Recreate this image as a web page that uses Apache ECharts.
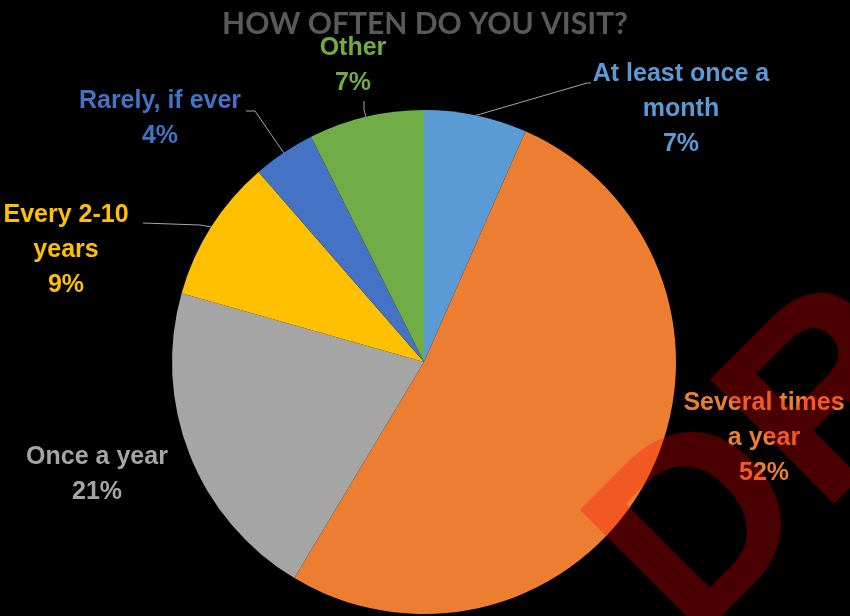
<!DOCTYPE html>
<html>
<head>
<meta charset="utf-8">
<script src="https://cdn.jsdelivr.net/npm/echarts@6/dist/echarts.min.js"></script>
<style>html,body{margin:0;padding:0;background:#000;}#c{width:850px;height:616px;}</style>
</head>
<body>
<div id="c"></div>
<script>
const titleText = 'HOW OFTEN DO YOU VISIT?';
const categories = ['At least once a\nmonth', 'Several times\na year', 'Once a year', 'Every 2-10\nyears', 'Rarely, if ever', 'Other'];
const values = [6.6, 52.0, 20.8, 9.2, 4.0, 7.4];
const colors = ['#5B9BD5', '#ED7D31', '#A5A5A5', '#FFC000', '#4472C4', '#70AD47'];

// label placement (center of label block) and leader-line bends
const labelPos = [
  {x: 681, y: 109, line: [[587, 83], [591, 83]]},
  {x: 764, y: 438, line: null},
  {x: 97, y: 475, line: null},
  {x: 66, y: 250, line: [[200, 225], [143, 223]]},
  {x: 160, y: 119, line: [[255, 111], [246, 111]]},
  {x: 353, y: 66, line: [[364, 110], [364, 101]]}
];

const chart = echarts.init(document.getElementById('c'));
chart.setOption({
  backgroundColor: '#000',
  title: {
    text: titleText, left: 'center', top: 4,
    textStyle: {color: '#595959', fontFamily: 'Lato', fontWeight: 'bold', fontSize: 30}
  },
  graphic: [{
    type: 'text', z: 100, silent: true,
    x: 552, y: 506, rotation: Math.PI / 4,
    style: {
      text: 'DRAFT', fill: 'rgba(255,0,0,0.29)',
      font: 'bold 255px "Liberation Sans"', textAlign: 'left', textVerticalAlign: 'top'
    }
  }],
  series: [{
    type: 'pie',
    center: [424, 362], radius: 252,
    startAngle: 90, clockwise: true,
    animation: false,
    data: categories.map((c, i) => ({
      name: c, value: values[i],
      itemStyle: {color: colors[i]},
      label: {color: colors[i]},
      labelLine: {show: !!labelPos[i].line}
    })),
    label: {
      show: true, position: 'outside', overflow: 'none',
      formatter: p => p.name + '\n' + Math.round(p.value) + '%',
      fontFamily: '"Liberation Sans", sans-serif',
      fontWeight: 'bold', fontSize: 25, lineHeight: 35, align: 'center'
    },
    labelLine: {lineStyle: {color: '#A6A6A6', width: 1}},
    labelLayout: function (params) {
      const lp = labelPos[params.dataIndex];
      const out = {x: lp.x, y: lp.y, align: 'center', verticalAlign: 'middle', hideOverlap: false, moveOverlap: false, width: 300};
      if (lp.line && params.labelLinePoints) {
        out.labelLinePoints = [params.labelLinePoints[0], lp.line[0], lp.line[1]];
      }
      return out;
    }
  }]
});
</script>
</body>
</html>
